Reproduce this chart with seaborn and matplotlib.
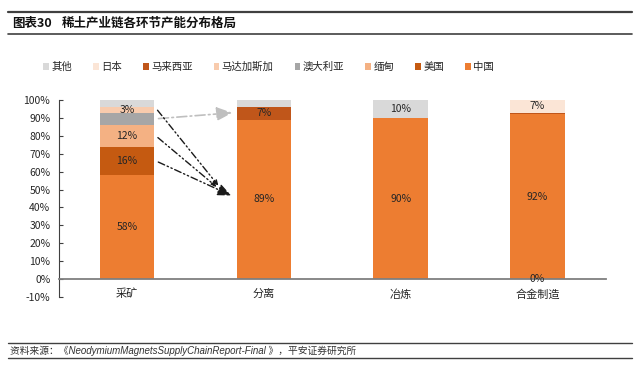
import matplotlib
matplotlib.use("Agg")
import matplotlib.pyplot as plt
from matplotlib.patches import Patch
import seaborn as sns
import pandas as pd
import numpy as np

sns.set_theme(style="white")
plt.rcParams['font.family'] = ['Noto Sans CJK SC', 'DejaVu Sans']
plt.rcParams['axes.unicode_minus'] = False

# ---------------- data ----------------
categories = ["采矿", "分离", "冶炼", "合金制造"]
series = ["中国", "美国", "缅甸", "澳大利亚", "马达加斯加", "马来西亚", "日本", "其他"]
china      = [58, 89, 90, 92]
usa        = [16, 0, 0, 0]
myanmar    = [12, 0, 0, 0]
australia  = [7, 0, 0, 0]
madagascar = [3, 0, 0, 0]
malaysia   = [0, 7, 0, 1]
japan      = [0, 0, 0, 7]
other      = [4, 4, 10, 0]
values = [china, usa, myanmar, australia, madagascar, malaysia, japan, other]
colors = ["#ED7D31", "#C55A11", "#F4B183", "#A6A6A6", "#F8CBAD", "#C0561A", "#FBE5D6", "#D9D9D9"]
# which segments carry a data label
labelled = {("中国", 0), ("美国", 0), ("缅甸", 0), ("马达加斯加", 0),
            ("中国", 1), ("马来西亚", 1),
            ("中国", 2), ("其他", 2),
            ("中国", 3), ("日本", 3), ("美国", 3)}
yticks = list(range(-10, 101, 10))

# ---------------- figure ----------------
fig = plt.figure(figsize=(6.4, 3.65), dpi=100)
ax = fig.add_axes([58.6/640, 1-297/365, (606-58.6)/640, (297-100)/365])

bottom = np.zeros(len(categories))
for name, vals, col in zip(series, values, colors):
    df = pd.DataFrame({"cat": categories, "v": vals})
    sns.barplot(data=df, x="cat", y="v", order=categories, color=col,
                width=0.4, bottom=bottom, ax=ax, linewidth=0, saturation=1,
                errorbar=None)
    for i, v in enumerate(vals):
        if (name, i) in labelled:
            y = 0 if v == 0 else bottom[i] + v/2
            ax.text(i, y, f"{v}%", ha="center", va="center", fontsize=7.5,
                    color="#262626")
    bottom = bottom + np.array(vals, dtype=float)

for s in ["top", "right"]:
    ax.spines[s].set_visible(False)
ax.spines["bottom"].set_position(("data", 0))
ax.spines["bottom"].set_color("#7f7f7f")
ax.spines["bottom"].set_linewidth(1.3)
ax.spines["left"].set_color("#404040")
ax.spines["left"].set_linewidth(0.8)
ax.grid(False)

ax.set_ylim(-10, 100)
ax.set_xlim(-0.5, 3.5)
ax.set_yticks(yticks)
ax.set_yticklabels([f"{t}%" for t in yticks])
ax.set_xlabel("")
ax.set_ylabel("")
ax.set_xticks(range(len(categories)))
ax.set_xticklabels(categories)
ax.set_xticks([0.5, 1.5, 2.5, 3.5], minor=True)
ax.tick_params(axis="x", which="major", length=0, pad=7, labelsize=8, labelcolor="#262626")
ax.tick_params(axis="x", which="minor", length=3, direction="in", color="#7f7f7f", width=0.8)
ax.tick_params(axis="y", which="major", length=3, direction="in", color="#404040",
               width=0.8, pad=6, left=True, labelsize=7.5, labelcolor="#262626")

# ---------------- arrows ----------------
cum0 = np.cumsum([v[0] for v in values])
cum1 = np.cumsum([v[1] for v in values])
def center(cum, k):
    lo = cum[k-1] if k > 0 else 0
    return (lo + cum[k]) / 2

x_from = 0.21
# grey: Australia (mine) -> Malaysia (separation)
ax.annotate("", xy=(0.79, center(cum1, 5) + 0.5), xytext=(x_from, center(cum0, 3)),
            arrowprops=dict(arrowstyle="-|>,head_length=0.8,head_width=0.35",
                            color="#BFBFBF", lw=1.2, linestyle=(0, (6, 2, 1, 2))))
# black: Madagascar, Myanmar, USA -> China (separation)
c_target = center(cum1, 0)
for k, (xe, dy, hl, hw) in zip([4, 2, 1], [(0.68, 6.5, 0.25, 0.12),
                                           (0.67, 6.0, 0.25, 0.12),
                                           (0.78, 1.5, 0.7, 0.3)]):
    ax.annotate("", xy=(xe, c_target + dy), xytext=(x_from, center(cum0, k) + (1 if k == 4 else 0)),
                arrowprops=dict(arrowstyle=f"-|>,head_length={hl},head_width={hw}",
                                color="#1a1a1a", lw=1.0, linestyle=(0, (5, 2, 1, 2, 1, 2))))

# ---------------- legend ----------------
order = list(reversed(range(len(series))))
handles = [Patch(facecolor=colors[i], edgecolor="none") for i in order]
labels = [series[i] for i in order]
fig.legend(handles, labels, loc="center left", bbox_to_anchor=(43/640, 1-67/365),
           ncol=8, frameon=False, fontsize=7.5, handlelength=0.55, handleheight=0.55,
           handletextpad=0.25, columnspacing=2.0, borderpad=0, borderaxespad=0,
           labelcolor="#262626")

# ---------------- title & footer ----------------
fig.add_artist(plt.Line2D([8/640, 632/640], [1-12/365, 1-12/365], color="#404040", lw=1.6))
fig.add_artist(plt.Line2D([8/640, 632/640], [1-34/365, 1-34/365], color="#404040", lw=1.2))
fig.text(12/640, 1-23/365, "图表30", fontsize=9, fontweight="bold", va="center", color="#111111")
fig.text(62/640, 1-23/365, "稀土产业链各环节产能分布格局", fontsize=9, fontweight="bold",
         va="center", color="#111111")
fig.add_artist(plt.Line2D([8/640, 632/640], [1-343/365, 1-343/365], color="#404040", lw=1.0))
fig.add_artist(plt.Line2D([8/640, 632/640], [1-358/365, 1-358/365], color="#404040", lw=1.0))
fig.text(10/640, 1-351/365, "资料来源：《NeodymiumMagnetsSupplyChainReport-Final 》，平安证券研究所",
         fontsize=7, style="italic", va="center", color="#333333",
         family=['Liberation Sans', 'Noto Sans CJK SC'])

fig.savefig("out.png", dpi=100)
